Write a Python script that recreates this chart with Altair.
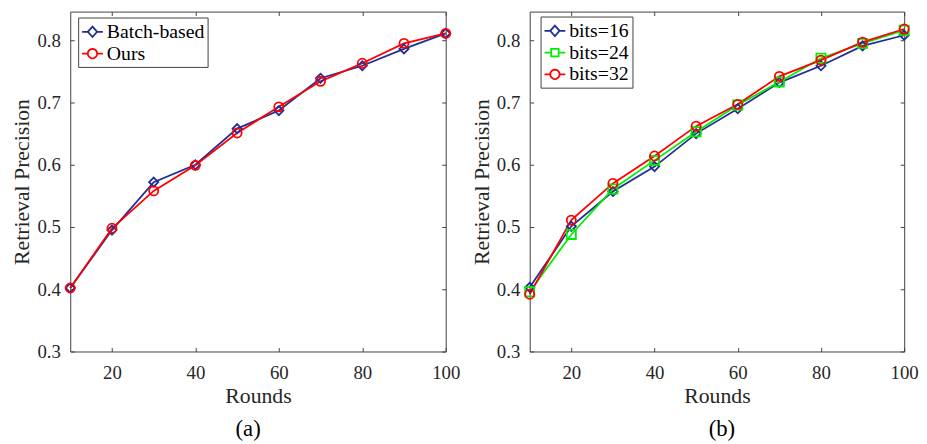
import math
import altair as alt
import pandas as pd

# ---------------- data ----------------
rounds = [10, 20, 30, 40, 50, 60, 70, 80, 90, 100]
batch_based = [0.402, 0.495, 0.572, 0.600, 0.658, 0.687, 0.739, 0.759, 0.786, 0.811]
ours = [0.402, 0.498, 0.558, 0.599, 0.651, 0.693, 0.734, 0.763, 0.795, 0.811]
bits16 = [0.403, 0.501, 0.557, 0.597, 0.650, 0.690, 0.732, 0.759, 0.791, 0.808]
bits24 = [0.396, 0.488, 0.561, 0.607, 0.653, 0.696, 0.733, 0.771, 0.795, 0.816]
bits32 = [0.392, 0.511, 0.570, 0.614, 0.662, 0.697, 0.742, 0.768, 0.797, 0.818]

names_a = ["Batch-based", "Ours"]
names_b = ["bits=16", "bits=24", "bits=32"]
x_ticks = [20, 40, 60, 80, 100]
y_ticks = [0.3, 0.4, 0.5, 0.6, 0.7, 0.8]

BLUE = "#1f2f96"
RED = "#ff0000"
GREEN = "#00ee00"
FONT = "Liberation Serif"


def make_df(series_names, series_values, field):
    rows = []
    for name, vals in zip(series_names, series_values):
        for r, v in zip(rounds, vals):
            rows.append({"Rounds": r, "Precision": v, field: name})
    return pd.DataFrame(rows)


df_a = make_df(names_a, [batch_based, ours], "Method")
df_b = make_df(names_b, [bits16, bits24, bits32], "Bits")

# legend symbols: line + marker (style only)
def circle_path(r=0.45, n=20):
    pts = [(r * math.cos(2 * math.pi * k / n), r * math.sin(2 * math.pi * k / n)) for k in range(n)]
    return "M" + "L".join(f"{x:.3f},{y:.3f}" for x, y in pts) + "Z"

LEG_DIAMOND = "M-1,0L-0.45,0M0.45,0L1,0M0,-0.5L0.45,0L0,0.5L-0.45,0Z"
LEG_CIRCLE = "M-1,0L-0.45,0M0.45,0L1,0M" + circle_path()[1:]
LEG_SQUARE = "M-1,0L-0.36,0M0.36,0L1,0M-0.36,-0.36L0.36,-0.36L0.36,0.36L-0.36,0.36Z"


def panel(df, field, names, colors, shapes, leg_shapes, caption, lx, ly, width, cap_dx):
    xs = alt.Scale(domain=[10, 100], nice=False, zero=False)
    ys = alt.Scale(domain=[0.3, 0.846], nice=False, zero=False)
    f = f"{field}:N"

    def cs():
        return alt.Scale(domain=names, range=colors)

    x_main = alt.X("Rounds:Q", scale=xs, axis=alt.Axis(
        orient="bottom", values=x_ticks, offset=-4, tickSize=4, domain=False,
        labelPadding=12, labelFlush=False, title="Rounds", titlePadding=4))
    y_main = alt.Y("Precision:Q", scale=ys, axis=alt.Axis(
        orient="left", values=y_ticks, offset=-4, tickSize=4, domain=False,
        labelPadding=10, labelFlush=False, format=".1f",
        title="Retrieval Precision", titlePadding=3))
    x_top = alt.X("Rounds:Q", scale=xs, axis=alt.Axis(
        orient="top", values=x_ticks, offset=-4, tickSize=4, domain=False,
        labels=False, title=None))
    y_right = alt.Y("Precision:Q", scale=ys, axis=alt.Axis(
        orient="right", values=y_ticks, offset=-4, tickSize=4, domain=False,
        labels=False, title=None))

    base = alt.Chart(df)
    lines = base.mark_line(strokeWidth=1.8).encode(
        x=x_main, y=y_main,
        color=alt.Color(f, scale=cs(), legend=None),
        detail=f,
    )
    points = base.mark_point(filled=False, strokeWidth=1.8, size=85, opacity=1).encode(
        x=x_top, y=y_right,
        color=alt.Color(f, scale=cs(), legend=None),
        shape=alt.Shape(f, scale=alt.Scale(domain=names, range=shapes), legend=None),
    )
    leg = alt.Legend(title=None, orient="none", legendX=lx, legendY=ly)
    legend_layer = base.transform_filter("false").mark_point(
        filled=False, strokeWidth=1.8, opacity=1).encode(
        x=alt.X("Rounds:Q", scale=xs, axis=None),
        y=alt.Y("Precision:Q", scale=ys, axis=None),
        color=alt.Color(f, scale=cs(), legend=leg),
        shape=alt.Shape(f, scale=alt.Scale(domain=names, range=leg_shapes), legend=leg),
    )
    return alt.layer(lines, points, legend_layer).resolve_axis(
        x="independent", y="independent"
    ).resolve_scale(shape="independent", color="independent").resolve_legend(
        shape="independent", color="independent"
    ).properties(
        width=width, height=344,
        title=alt.TitleParams(caption, orient="bottom", fontSize=23, font=FONT,
                              fontWeight="normal", color="black", offset=12, dx=cap_dx),
    )


pa = panel(df_a, "Method", names_a, [BLUE, RED], ["diamond", "circle"],
           [LEG_DIAMOND, LEG_CIRCLE], "(a)", 8, 6, 380, -10)
pb = panel(df_b, "Bits", names_b, [BLUE, GREEN, RED], ["diamond", "square", "circle"],
           [LEG_DIAMOND, LEG_SQUARE, LEG_CIRCLE], "(b)", 11, 5, 379, 5)

chart = alt.hconcat(pa, pb, spacing=85, bounds="flush").resolve_scale(
    color="independent", shape="independent"
).resolve_legend(
    color="independent", shape="independent"
).properties(
    padding={"left": 2, "top": 0, "right": 0, "bottom": 0}
).configure_view(
    stroke="#404040", strokeWidth=1
).configure_axis(
    labelFont=FONT, titleFont=FONT, labelColor="#262626", titleColor="#262626",
    tickColor="#404040", grid=False, titleFontWeight="normal",
    labelFontSize=19, titleFontSize=22,
).configure_legend(
    symbolSize=441, labelFontSize=20, labelFont=FONT, labelColor="black",
    padding=3, rowPadding=0, labelOffset=3, strokeColor="#404040",
    fillColor="white", symbolStrokeWidth=1.8, cornerRadius=0,
)

chart.save("out.html", embed_options={"renderer": "svg", "actions": False})
